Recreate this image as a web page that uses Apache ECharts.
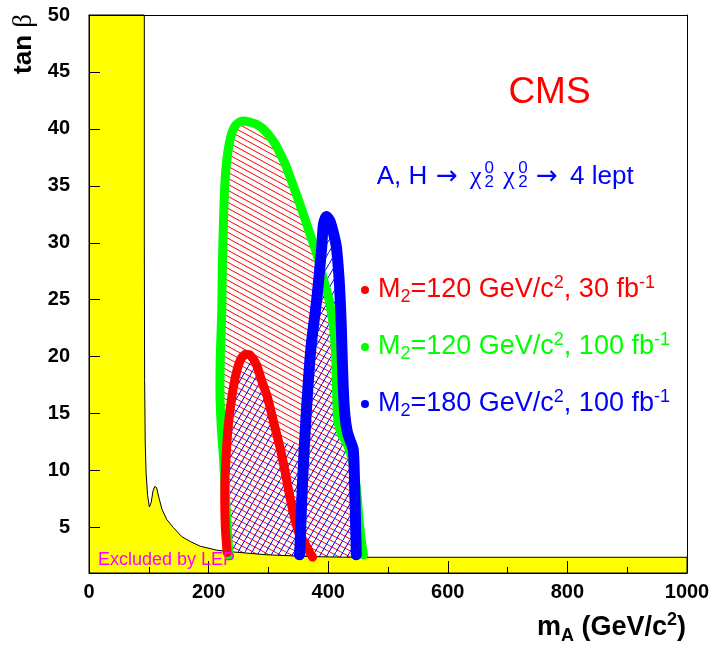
<!DOCTYPE html>
<html><head><meta charset="utf-8">
<script src="https://cdn.jsdelivr.net/npm/echarts@6.0.0/dist/echarts.min.js"></script>
<style>html,body{margin:0;padding:0;background:#fff}#c{width:712px;height:647px}</style>
</head><body><div id="c"></div>
<script>
// ---------- data (mA in GeV/c^2, tan beta) ----------
const xTicks = [0, 200, 400, 600, 800, 1000];
const yTicks = [5, 10, 15, 20, 25, 30, 35, 40, 45, 50];

const lepExcluded = [[0,1],[0,50],[92.5,50],[92.5,30],[93,18],[94,12.5],[95.5,9.8],[98,7.8],[101,6.8],[104,7.2],[107,8.2],[110,8.6],[113,8.5],[117,7.6],[122,6.6],[130,5.7],[141,5.0],[155,4.2],[170,3.75],[186,3.35],[214,3.0],[241,2.85],[297,2.6],[370,2.44],[436,2.38],[1000,2.38],[1000,1]];

const green100 = [[234,2.6],[231,5],[228,8],[225,11],[221,14],[219,17],[219.5,20],[222,24],[223,28],[225,32],[227,35],[231,37.5],[237,39.3],[245,40.3],[256,40.7],[269,40.6],[280,40.4],[289,40.1],[300,39.5],[311,38.7],[320,37.8],[329,36.8],[343,34.8],[358,32.6],[370,30.7],[381,29.0],[391,27.0],[401,25.1],[408,23.0],[412,20.7],[414,17],[416,14.5],[422,13.2],[431,12.4],[440,11],[447,8.5],[451,6],[455,4],[459,2.6]];

const red30 = [[231,2.8],[228,5],[227,8],[229,11],[233,14],[239,16.5],[246,18.5],[254,19.8],[262,20.2],[270,20.1],[280,19.3],[288,18],[298,16.5],[309,14.2],[320,11.9],[329,9.6],[337,7.4],[345,5.6],[351,4.5],[358,3.9],[366,3.1],[374,2.4]];

const blue180 = [[352,2.6],[353,3.6],[357,8.9],[363,14.8],[371,20.7],[381,25.1],[389,29.5],[392,31.6],[397,32.3],[403,31.9],[409,30.8],[414,29.5],[418,27],[420,25.1],[422,22.5],[423,20.7],[425,17.5],[428,14.8],[432,13.4],[437,12.6],[442,11.8],[444,9],[445.5,6],[447,2.6]];

// region hatched by the red "\" lines (inside the 100 fb-1, M2=120 contour)
const redHatchRegion = green100.concat([[459,2.0],[234,2.0]]);
// region hatched by the blue "/" lines
const blueHatchRegion = [[231,2.8],[228,5],[227,8],[229,11],[233,14],[239,16.5],[246,18.5],[254,19.8],[262,20.2],[270,20.1],[280,19.3],[288,18],[298,16.5],[309,14.2],[318,12.4],[360.5,12.4],[363,14.8],[371,20.7],[381,25.1],[389,29.5],[392,31.6],[397,32.3],[403,31.9],[409,30.8],[414,29.5],[418,27],[420,25.1],[422,22.5],[423,20.7],[425,17.5],[428,14.8],[432,13.4],[437,12.6],[442,11.8],[444,9],[445.5,6],[447,2.6],[447,2.0],[231,2.0]];

const legendRows = [
  {color:'#ff0000', text:'{m|M}{s|2}{m|=120 GeV/c}{p|2}{m|, 30 fb}{q|-1}'},
  {color:'#00ff00', text:'{m|M}{s|2}{m|=120 GeV/c}{p|2}{m|, 100 fb}{q|-1}'},
  {color:'#0000ff', text:'{m|M}{s|2}{m|=180 GeV/c}{p|2}{m|, 100 fb}{q|-1}'}
];

// ---------- rendering ----------
const FONT = '"Liberation Sans", Arial, Helvetica, sans-serif';
const SERIF = '"Liberation Serif", "DejaVu Serif", serif';
const ARROWFONT = '"DejaVu Sans", sans-serif';

function hatch(color, w, h, dir) {
  const c = document.createElement('canvas');
  c.width = w; c.height = h;
  const g = c.getContext('2d');
  g.strokeStyle = color; g.lineWidth = 1;
  g.beginPath();
  for (let k = -1; k <= 1; k++) {
    if (dir > 0) { g.moveTo(0, k*h); g.lineTo(w, h + k*h); }
    else { g.moveTo(0, h + k*h); g.lineTo(w, k*h); }
  }
  g.stroke();
  return {image: c, repeat: 'repeat'};
}

function polySeries(points, style, z) {
  return {
    type: 'custom', data: points, z: z, silent: true,
    encode: {x: 0, y: 1},
    renderItem: function (params, api) {
      if (params.context.rendered) return;
      params.context.rendered = true;
      const pts = points.map(p => api.coord(p));
      return {type: 'polygon', shape: {points: pts}, style: style};
    }
  };
}

function lineSeries(points, color, width, z) {
  return {
    type: 'line', data: points, z: z, silent: true, symbol: 'none', showSymbol: false,
    smooth: 0.25, animation: false,
    lineStyle: {color: color, width: width, join: 'round', cap: 'round'}
  };
}

const chart = echarts.init(document.getElementById('c'), null, {renderer: 'canvas', width: 712, height: 647});

const axisLineStyle = {color: '#000', width: 1};
const tickLabel = {color: '#000', fontSize: 20, fontWeight: 'bold', fontFamily: FONT, formatter: v => String(v)};

const legendGraphics = [];
legendRows.forEach((r, i) => {
  const y = 290 + i * 57;
  legendGraphics.push({type: 'circle', z: 30, shape: {cx: 365, cy: y, r: 4}, style: {fill: r.color}});
  legendGraphics.push({type: 'text', z: 30, x: 378, y: y, style: {
    text: r.text, align: 'left', verticalAlign: 'middle',
    rich: {
      m: {fontSize: 27, fontFamily: FONT, fill: r.color, lineHeight: 32},
      s: {fontSize: 18, fontFamily: FONT, fill: r.color, lineHeight: 6, verticalAlign: 'bottom'},
      p: {fontSize: 18, fontFamily: FONT, fill: r.color, lineHeight: 25, verticalAlign: 'top'},
      q: {fontSize: 18, fontFamily: FONT, fill: r.color, lineHeight: 19, verticalAlign: 'top'}
    }
  }});
});

function txt(x, y, text, size, color, family, align) {
  return {type: 'text', z: 30, x: x, y: y, style: {
    text: text, fill: color, fontSize: size, fontFamily: family || FONT,
    font: size + 'px ' + (family || FONT), align: align || 'left', verticalAlign: 'middle'
  }};
}

const blue = '#0000ff';
const procGraphics = [
  txt(376.7, 177, 'A, H', 26, blue),
  txt(436, 177, '\u2192', 26, blue, ARROWFONT),
  txt(470, 177, '\u03c7', 26, blue, SERIF),
  txt(484.5, 168.3, '0', 17, blue),
  txt(484.5, 182.5, '2', 17, blue),
  txt(503.3, 177, '\u03c7', 26, blue, SERIF),
  txt(518.3, 168.3, '0', 17, blue),
  txt(518.3, 182.5, '2', 17, blue),
  txt(536, 177, '\u2192', 26, blue, ARROWFONT),
  txt(570, 177, '4 lept', 26, blue)
];

const option = {
  animation: false,
  backgroundColor: '#fff',
  grid: {left: 89, right: 25, top: 15, bottom: 74, outerBoundsMode: 'none', containLabel: false},
  xAxis: [{
    type: 'value', min: 0, max: 1000, interval: 200, position: 'bottom', z: 10,
    axisLine: {show: true, onZero: false, lineStyle: axisLineStyle},
    axisTick: {show: true, inside: true, length: 12, lineStyle: axisLineStyle},
    minorTick: {show: true, splitNumber: 2, length: 6, lineStyle: axisLineStyle},
    axisLabel: Object.assign({margin: 9, customValues: xTicks}, tickLabel),
    splitLine: {show: false}
  }, {
    type: 'value', min: 0, max: 1000, position: 'top', z: 10,
    axisLine: {show: true, onZero: false, lineStyle: axisLineStyle},
    axisTick: {show: false}, axisLabel: {show: false}, splitLine: {show: false}
  }],
  yAxis: [{
    type: 'value', min: 1, max: 50, position: 'left', z: 10,
    axisLine: {show: true, onZero: false, lineStyle: axisLineStyle},
    axisTick: {show: true, inside: true, length: 11, customValues: yTicks, lineStyle: axisLineStyle},
    axisLabel: Object.assign({margin: 19, customValues: yTicks}, tickLabel),
    splitLine: {show: false}
  }, {
    type: 'value', min: 1, max: 50, position: 'right', z: 10,
    axisLine: {show: true, onZero: false, lineStyle: axisLineStyle},
    axisTick: {show: false}, axisLabel: {show: false}, splitLine: {show: false}
  }],
  series: [
    polySeries(redHatchRegion, {fill: hatch('#ff0000', 11, 6, 1), stroke: null}, 1),
    polySeries(blueHatchRegion, {fill: hatch('#0000ff', 7, 12, -1), stroke: null}, 2),
    polySeries(lepExcluded, {fill: '#ffff00', stroke: '#000', lineWidth: 1}, 3),
    lineSeries(green100, '#00ff00', 9, 4),
    lineSeries(red30, '#ff0000', 9, 5),
    lineSeries(blue180, '#0000ff', 11, 6)
  ],
  graphic: {elements: [
    {type: 'text', z: 30, x: 24, y: 44, rotation: Math.PI / 2, style: {
      text: '{b|tan }{g|\u03b2}', align: 'center', verticalAlign: 'middle',
      rich: {
        b: {fontSize: 26, fontWeight: 'bold', fontFamily: FONT, fill: '#000'},
        g: {fontSize: 27, fontFamily: SERIF, fill: '#000'}
      }
    }},
    {type: 'text', z: 30, x: 686, y: 628, style: {
      text: '{b|m}{s|A}{b| (GeV/c}{p|2}{b|)}', align: 'right', verticalAlign: 'middle',
      rich: {
        b: {fontSize: 27, fontWeight: 'bold', fontFamily: FONT, fill: '#000', lineHeight: 34},
        s: {fontSize: 18, fontWeight: 'bold', fontFamily: FONT, fill: '#000', lineHeight: 16, verticalAlign: 'bottom'},
        p: {fontSize: 18, fontWeight: 'bold', fontFamily: FONT, fill: '#000', lineHeight: 25, verticalAlign: 'top'}
      }
    }},
    txt(549.5, 92.5, 'CMS', 37, '#ff0000', FONT, 'center'),
    txt(98, 560, 'Excluded by LEP', 18, '#ff00ff')
  ].concat(procGraphics, legendGraphics)}
};
chart.setOption(option);
</script>
</body></html>
